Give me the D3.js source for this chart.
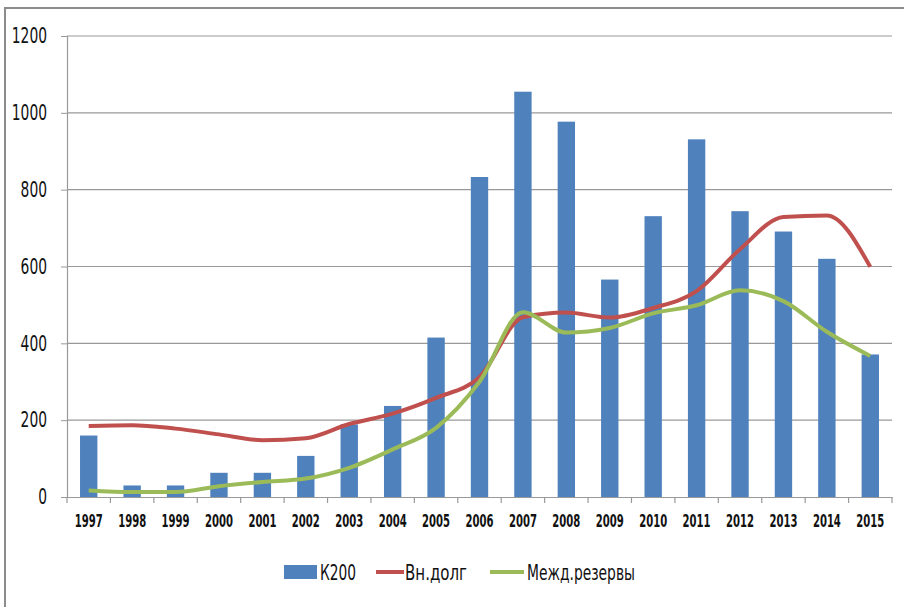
<!DOCTYPE html>
<html><head><meta charset="utf-8">
<script src="https://cdn.jsdelivr.net/npm/d3@7/dist/d3.min.js"></script>
<style>
body{margin:0;background:#fff;}
svg{display:block;}
text{font-family:"DejaVu Sans Condensed","Liberation Sans Narrow",sans-serif;}
</style></head>
<body><svg id="c" width="904" height="607"></svg>
<script>
const years = ["1997","1998","1999","2000","2001","2002","2003","2004","2005","2006","2007","2008","2009","2010","2011","2012","2013","2014","2015"];
const k200 = [160,30,30,63,63,107,189,237,415,833,1055,977,566,731,931,744,691,620,371];
const debt = [185,187,178,163,148,153,190,217,258,312,468,480,467,492,536,645,729,733,599];
const reserves = [17,13,13,28,39,48,76,124,180,300,481,428,440,478,499,538,510,430,367];
const yTicks = [0,200,400,600,800,1000,1200];
const seriesNames = ["К200","Вн.долг","Межд.резервы"];
const colors = ["#4F81BD","#C0504D","#9BBB59"];

const svg = d3.select("#c");
const L=67, R=892, T=36, B=497;

// outer border
svg.append("rect").attr("x",5).attr("y",8).attr("width",1000).attr("height",1000)
  .attr("fill","none").attr("stroke","#8c8c8c").attr("stroke-width",2);

const x = d3.scaleBand().domain(years).range([L,R]).paddingInner(0.6).paddingOuter(0.3);
const xb = d3.scaleBand().domain(years).range([L,R]);
const y = d3.scaleLinear().domain([0,1200]).range([B,T]);

// gridlines
svg.append("g").selectAll("line").data(yTicks.filter(d=>d>0)).join("line")
  .attr("x1",L).attr("x2",R).attr("y1",d=>y(d)).attr("y2",d=>y(d))
  .attr("stroke","#999").attr("stroke-width",1.2);

// y axis
const ya = svg.append("g").attr("transform",`translate(${L},0)`)
  .call(d3.axisLeft(y).tickValues(yTicks).tickFormat(d3.format("d")).tickSize(6).tickPadding(14));
ya.select(".domain").attr("stroke","#999").attr("stroke-width",1.2);
ya.selectAll(".tick line").attr("stroke","#999");
ya.selectAll(".tick text").attr("font-size",21).attr("fill","#111")
  .attr("font-family",'"DejaVu Sans Condensed",sans-serif')
  .attr("textLength",d=>String(d).length*8.8).attr("lengthAdjust","spacingAndGlyphs");

// bars
svg.append("g").selectAll("rect").data(years).join("rect")
  .attr("x",d=>x(d)).attr("width",x.bandwidth())
  .attr("y",(d,i)=>y(k200[i])).attr("height",(d,i)=>B-y(k200[i]))
  .attr("fill",colors[0]);

// x axis
const xa = svg.append("g").attr("transform",`translate(0,${B})`)
  .call(d3.axisBottom(xb).tickSize(0).tickPadding(18));
xa.select(".domain").attr("stroke","#999").attr("stroke-width",1.2);
xa.selectAll(".tick text").attr("font-size",17.5).attr("font-weight","bold").attr("fill","#111")
  .attr("font-family",'"DejaVu Sans Condensed",sans-serif')
  .attr("textLength",28).attr("lengthAdjust","spacingAndGlyphs");
// boundary ticks
svg.append("g").selectAll("line").data(d3.range(years.length+1)).join("line")
  .attr("x1",i=>L+i*xb.step()).attr("x2",i=>L+i*xb.step())
  .attr("y1",B).attr("y2",B+6).attr("stroke","#999").attr("stroke-width",1.2);

// lines
const line = d3.line().x((d,i)=>xb(years[i])+xb.bandwidth()/2).y(d=>y(d)).curve(d3.curveMonotoneX);
[[debt,colors[1]],[reserves,colors[2]]].forEach(([data,c])=>{
  svg.append("path").datum(data).attr("d",line).attr("fill","none")
    .attr("stroke",c).attr("stroke-width",4).attr("stroke-linejoin","round");
});

// legend
const lg = svg.append("g");
const legendText = (xx,w,t)=>lg.append("text").attr("x",xx).attr("y",580).attr("font-size",21).attr("fill","#111")
  .attr("textLength",w).attr("lengthAdjust","spacingAndGlyphs").text(t);
lg.append("rect").attr("x",284).attr("y",565).attr("width",33).attr("height",14).attr("fill",colors[0]);
legendText(320,36,seriesNames[0]);
lg.append("line").attr("x1",376).attr("x2",404).attr("y1",572).attr("y2",572).attr("stroke",colors[1]).attr("stroke-width",4);
legendText(405,62,seriesNames[1]);
lg.append("line").attr("x1",490).attr("x2",524).attr("y1",572).attr("y2",572).attr("stroke",colors[2]).attr("stroke-width",4);
legendText(527,108,seriesNames[2]);
</script></body></html>
